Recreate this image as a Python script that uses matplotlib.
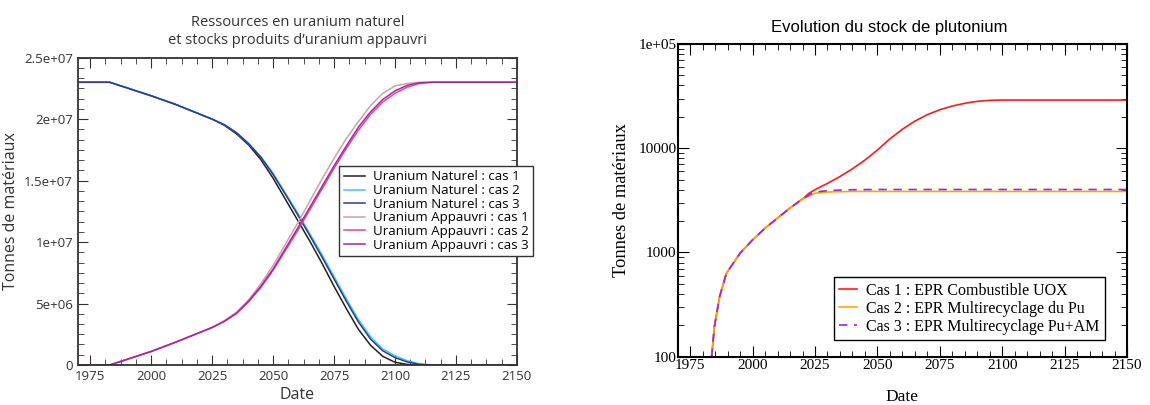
import numpy as np
import matplotlib
matplotlib.use("Agg")
import matplotlib.pyplot as plt
from matplotlib.ticker import MultipleLocator, AutoMinorLocator, FixedLocator, FuncFormatter, LogLocator, NullFormatter

# --- left chart: uranium (values in millions of tonnes) ---
yr_nat = [1970, 1983, 1990, 2000, 2010, 2020, 2025, 2030, 2035, 2040, 2045, 2050, 2055,
          2060, 2065, 2070, 2075, 2080, 2085, 2090, 2095, 2100, 2105, 2110, 2115, 2150]
nat_1 = [23.0, 23.0, 22.55, 21.9, 21.2, 20.4, 20.0, 19.5, 18.8, 17.9, 16.7, 15.2, 13.5,
         11.8, 10.1, 8.3, 6.4, 4.6, 2.9, 1.6, 0.7, 0.22, 0.05, 0.0, 0.0, 0.0]
nat_2 = [23.0, 23.0, 22.55, 21.9, 21.2, 20.4, 20.0, 19.55, 18.9, 18.0, 16.95, 15.6, 14.0,
         12.4, 10.7, 9.0, 7.2, 5.4, 3.7, 2.3, 1.3, 0.75, 0.35, 0.1, 0.0, 0.0]
nat_3 = [23.0, 23.0, 22.55, 21.9, 21.2, 20.4, 20.0, 19.55, 18.9, 18.0, 16.9, 15.5, 13.9,
         12.25, 10.55, 8.8, 7.0, 5.2, 3.5, 2.1, 1.15, 0.6, 0.25, 0.05, 0.0, 0.0]
app_1 = [0.0, 0.0, 0.45, 1.1, 1.85, 2.65, 3.05, 3.6, 4.3, 5.3, 6.6, 8.1, 9.8,
         11.5, 13.3, 15.1, 16.8, 18.4, 19.8, 21.1, 22.1, 22.7, 22.9, 23.0, 23.0, 23.0]
app_2 = [0.0, 0.0, 0.45, 1.1, 1.85, 2.65, 3.05, 3.55, 4.2, 5.15, 6.3, 7.7, 9.3,
         10.9, 12.6, 14.3, 16.0, 17.6, 19.1, 20.4, 21.4, 22.1, 22.6, 22.9, 23.0, 23.0]
app_3 = [0.0, 0.0, 0.45, 1.1, 1.85, 2.65, 3.05, 3.55, 4.2, 5.2, 6.4, 7.8, 9.45,
         11.1, 12.8, 14.5, 16.2, 17.8, 19.35, 20.6, 21.6, 22.3, 22.75, 22.95, 23.0, 23.0]

nat_labels = ["Uranium Naturel : cas 1", "Uranium Naturel : cas 2", "Uranium Naturel : cas 3",
              "Uranium Appauvri : cas 1", "Uranium Appauvri : cas 2", "Uranium Appauvri : cas 3"]

# --- right chart: plutonium stock (tonnes) ---
yr_pu = [1983.6, 1984.7, 1986.8, 1989.5, 1995, 2000, 2005, 2010, 2015, 2020.5, 2022.6, 2025,
         2030, 2035, 2040, 2045, 2050, 2055, 2060, 2065, 2070, 2075, 2080, 2085, 2090,
         2095, 2100, 2150]
pu_1 = [100, 194, 377, 630, 985, 1320, 1710, 2140, 2670, 3330, 3700, 4000,
        4600, 5350, 6350, 7700, 9600, 12300, 15200, 18200, 21000, 23400, 25400, 27000, 28200,
        28800, 29000, 29000]
pu_2 = [100, 194, 377, 630, 985, 1320, 1710, 2140, 2670, 3300, 3460, 3700,
        3800, 3830, 3850, 3850, 3850, 3850, 3850, 3850, 3850, 3850, 3850, 3850, 3850,
        3850, 3850, 3850]
pu_3 = [100, 194, 377, 630, 985, 1320, 1710, 2140, 2670, 3320, 3560, 3800,
        3920, 3970, 4000, 4010, 4020, 4020, 4020, 4020, 4020, 4020, 4020, 4020, 4020,
        4020, 4020, 4020]
pu_labels = ["Cas 1 : EPR Combustible UOX", "Cas 2 : EPR Multirecyclage du Pu",
             "Cas 3 : EPR Multirecyclage Pu+AM"]

fig = plt.figure(figsize=(11.5, 4.05), dpi=100)

# left
sans = ["Open Sans", "DejaVu Sans"]
ax1 = fig.add_axes([0.0678, 0.0988, 0.3817, 0.7588])
cols = ["#222222", "#3cc8e8", "#2a3a9c", "#c9a3ab", "#ee3fa0", "#a8289a"]
for ys, c, lab in zip([nat_1, nat_2, nat_3, app_1, app_2, app_3], cols, nat_labels):
    ax1.plot(yr_nat, np.array(ys) * 1e6, color=c, lw=1.1, label=lab)
ax1.set_xlim(1970, 2150)
ax1.set_ylim(0, 2.5e7)
ax1.xaxis.set_major_locator(FixedLocator([1975, 2000, 2025, 2050, 2075, 2100, 2125, 2150]))
ax1.xaxis.set_minor_locator(MultipleLocator(6.25))
ax1.yaxis.set_major_locator(MultipleLocator(5e6))
ax1.yaxis.set_minor_locator(AutoMinorLocator(6))
ylabs1 = {0: "0", 5e6: "5e+06", 1e7: "1e+07", 1.5e7: "1.5e+07", 2e7: "2e+07", 2.5e7: "2.5e+07"}
ax1.yaxis.set_major_formatter(FuncFormatter(lambda v, p: ylabs1.get(round(v / 5e6) * 5e6, "")))
ax1.tick_params(which="both", direction="in", top=True, right=True, colors="#333333",
                labelsize=9.5)
ax1.tick_params(which="major", length=7)
ax1.tick_params(which="minor", length=4)
for lab in ax1.get_xticklabels() + ax1.get_yticklabels():
    lab.set_family(sans)
for s in ax1.spines.values():
    s.set_linewidth(1.3)
    s.set_color("#333333")
ax1.set_title("Ressources en uranium naturel\net stocks produits d\u2019uranium appauvri",
              family=sans, fontsize=10.5, color="#333333", pad=10, linespacing=1.25)
ax1.set_xlabel("Date", family=sans, fontsize=11.5, color="#333333", labelpad=3)
ax1.set_ylabel("Tonnes de matériaux", family=sans, fontsize=11.5, color="#333333", labelpad=4)
leg1 = ax1.legend(loc="upper left", bbox_to_anchor=(0.595, 0.648), prop={"family": sans, "size": 9.5},
                  frameon=True, fancybox=False, borderpad=0.35, labelspacing=0.05,
                  handlelength=1.6, handletextpad=0.6, borderaxespad=0)
leg1.get_frame().set_edgecolor("#333333")
leg1.get_frame().set_linewidth(1.0)
leg1.get_frame().set_alpha(1)

# right
serif = ["Liberation Serif", "DejaVu Serif"]
ax2 = fig.add_axes([0.5893, 0.1193, 0.3907, 0.772])
ax2.plot(yr_pu, pu_1, color="#ff1a1a", lw=1.2, label=pu_labels[0])
ax2.plot(yr_pu, pu_2, color="#ffa500", lw=1.2, label=pu_labels[1])
ax2.plot(yr_pu, pu_3, color="#a020f0", lw=1.2, ls=(0, (5, 4)), label=pu_labels[2])
ax2.set_yscale("log")
ax2.set_xlim(1970, 2150)
ax2.set_ylim(100, 1e5)
ax2.xaxis.set_major_locator(FixedLocator([1975, 2000, 2025, 2050, 2075, 2100, 2125, 2150]))
ax2.xaxis.set_minor_locator(MultipleLocator(5))
ax2.yaxis.set_major_locator(FixedLocator([100, 1000, 10000, 100000]))
ylabs2 = {100: "100", 1000: "1000", 10000: "10000", 100000: "1e+05"}
ax2.yaxis.set_major_formatter(FuncFormatter(lambda v, p: ylabs2.get(int(round(v)), "")))
ax2.yaxis.set_minor_locator(LogLocator(base=10, subs=np.arange(2, 10)))
ax2.yaxis.set_minor_formatter(NullFormatter())
ax2.tick_params(which="both", direction="in", top=True, right=True, colors="black",
                labelsize=11)
ax2.tick_params(which="major", length=8)
ax2.tick_params(which="minor", length=4)
for lab in ax2.get_xticklabels() + ax2.get_yticklabels():
    lab.set_family(serif)
ax2.tick_params(axis="x", pad=2)
ax2.tick_params(axis="y", pad=1)
for s in ax2.spines.values():
    s.set_linewidth(1.5)
ax2.set_title("Evolution du stock de plutonium", family=["Liberation Sans", "DejaVu Sans"],
              fontsize=12, pad=9, x=0.47)
ax2.set_xlabel("Date", family=serif, fontsize=12.5, labelpad=12)
ax2.set_ylabel("Tonnes de matériaux", family=serif, fontsize=13.3, labelpad=6)
leg2 = ax2.legend(loc="lower left", bbox_to_anchor=(0.347, 0.053), prop={"family": serif, "size": 11.5},
                  frameon=True, fancybox=False, borderpad=0.35, labelspacing=0.12,
                  handlelength=1.1, handletextpad=0.55, borderaxespad=0)
leg2.get_frame().set_edgecolor("black")
leg2.get_frame().set_linewidth(1.0)
leg2.get_frame().set_alpha(1)

fig.savefig("out.png", dpi=100)
